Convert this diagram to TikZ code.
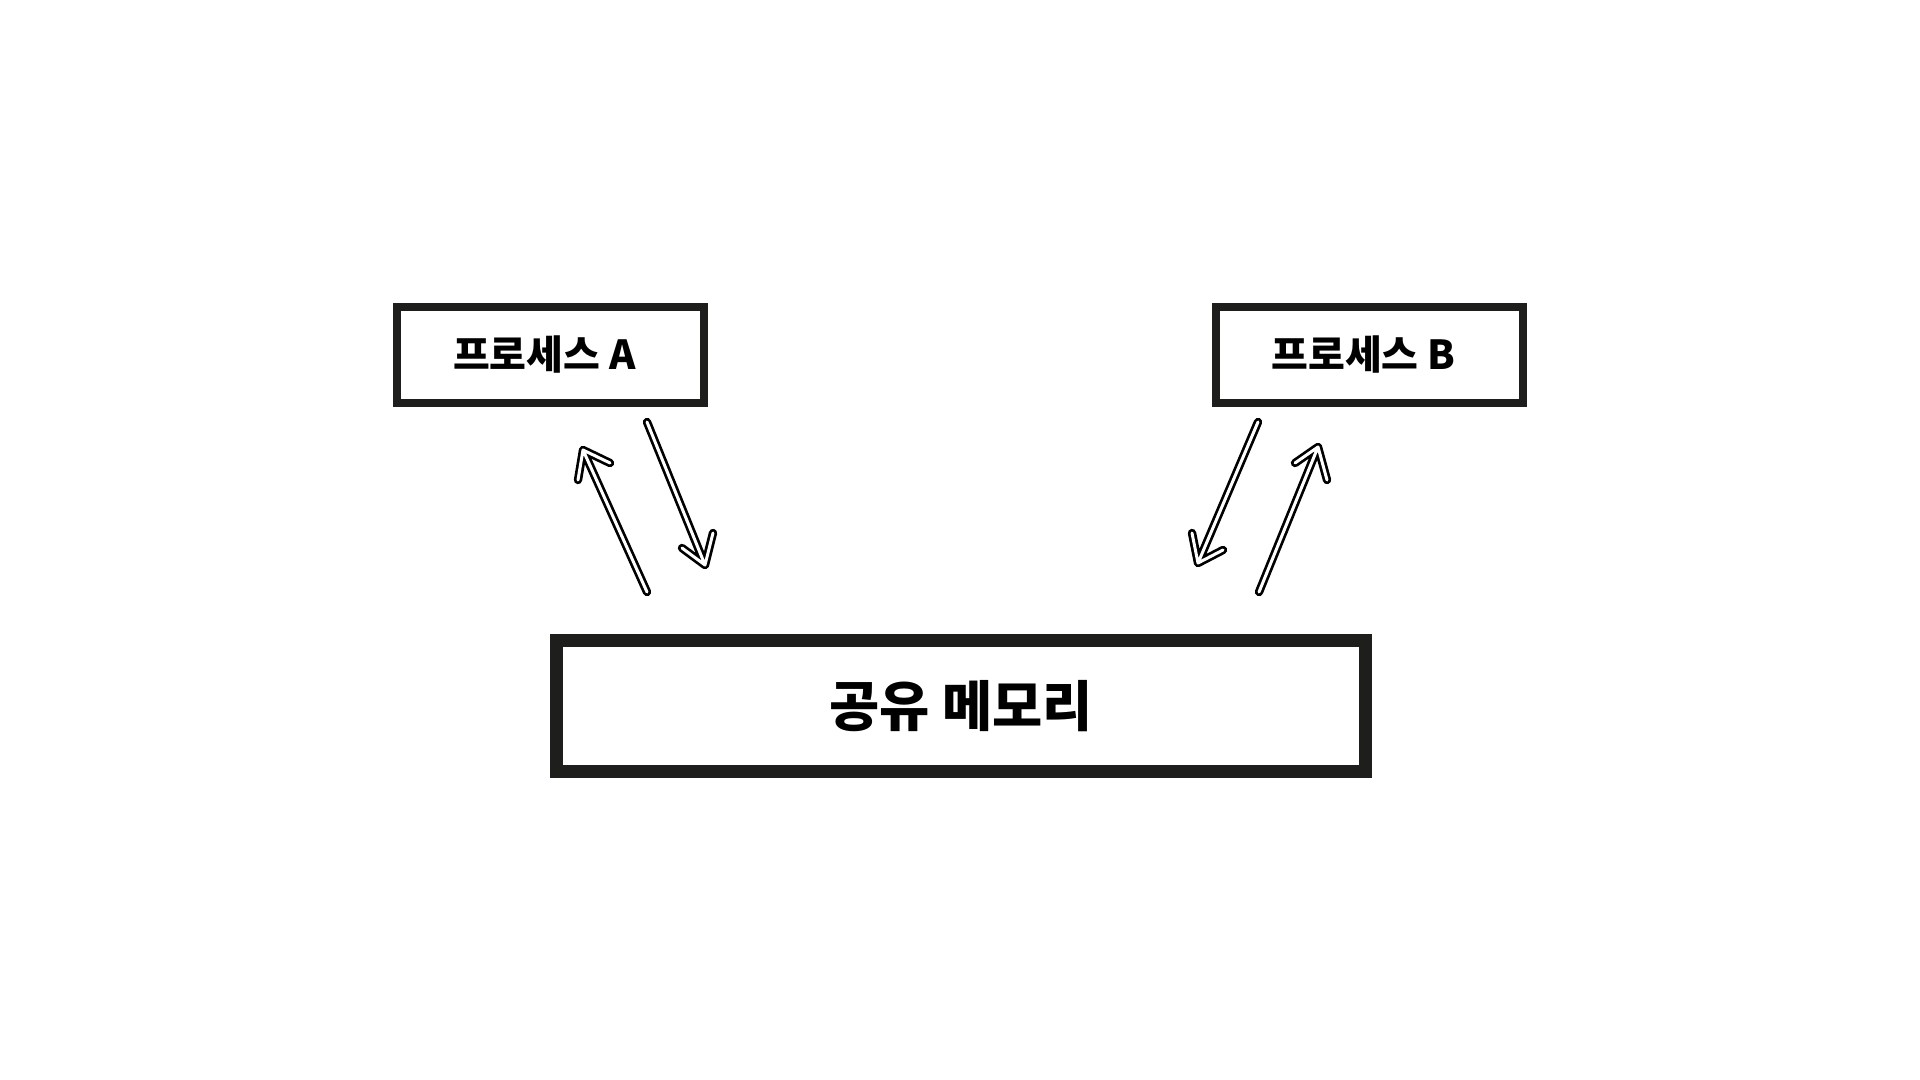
\documentclass[tikz,border=0pt]{standalone}
\usepackage{fontspec}
\newfontfamily\kr{Noto Sans CJK KR}
\definecolor{ink}{RGB}{30,30,28}
\begin{document}
\begin{tikzpicture}[x=0.5pt,y=-0.5pt,
  procbox/.style={draw=ink,line width=4pt,fill=white,minimum width=307*0.5pt,minimum height=96*0.5pt,inner sep=0pt,font=\kr\bfseries\fontsize{20}{24}\selectfont},
  membox/.style={draw=ink,line width=6.5pt,fill=white,minimum width=809*0.5pt,minimum height=131*0.5pt,inner sep=0pt,font=\kr\bfseries\fontsize{27.3}{32}\selectfont},
  arrowout/.style={draw=black,line width=4.2pt,line cap=round,line join=round},
  arrowin/.style={draw=white,line width=1.5pt,line cap=round,line join=round}]
\useasboundingbox[fill=white] (0,0) rectangle (1920,1080);
\node[procbox] (pa) at (550.5,355) {프로세스 A\kern6pt};
\node[procbox] (pb) at (1369.5,355) {프로세스 B\kern6pt};
\node[membox] (mem) at (961,706) {공유 메모리};
% arrow endpoints
\coordinate (a1t) at (647,592); \coordinate (a1h) at (583,450);
\coordinate (a1l) at (578,480); \coordinate (a1r) at (610,463);
\coordinate (a2t) at (647,422); \coordinate (a2h) at (705,565);
\coordinate (a2l) at (713,533); \coordinate (a2r) at (682,548);
\coordinate (b1t) at (1258,422); \coordinate (b1h) at (1198,563);
\coordinate (b1l) at (1192,533); \coordinate (b1r) at (1223,550);
\coordinate (b2t) at (1259,592); \coordinate (b2h) at (1318,447);
\coordinate (b2l) at (1295,463); \coordinate (b2r) at (1327,480);
\foreach \s in {arrowout,arrowin}{
  \foreach \a in {a1,a2,b1,b2}{
    \draw[\s] (\a t) -- (\a h) (\a l) -- (\a h) -- (\a r);
  }
}
\end{tikzpicture}
\end{document}
